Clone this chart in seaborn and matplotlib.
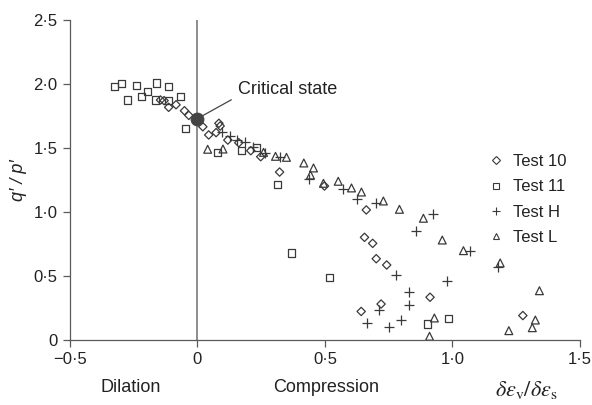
import numpy as np
import pandas as pd
import matplotlib
matplotlib.use("Agg")
import matplotlib.pyplot as plt
import seaborn as sns
from matplotlib.lines import Line2D

# Stress ratio q'/p' against dilatancy for four tests
test10_x = [-0.145, -0.131, -0.113, -0.084, -0.051, -0.034, 0.021, 0.044, 0.073, 0.084, 0.089,
            0.119, 0.162, 0.209, 0.248, 0.322, 0.498, 0.662, 0.655, 0.687, 0.701, 0.742,
            0.912, 0.720, 0.642, 1.276]
test10_y = [1.875, 1.870, 1.818, 1.838, 1.791, 1.755, 1.666, 1.602, 1.620, 1.693, 1.672,
            1.562, 1.541, 1.479, 1.432, 1.312, 1.203, 1.016, 0.802, 0.755, 0.635, 0.586,
            0.334, 0.281, 0.223, 0.191]

test11_x = [-0.325, -0.297, -0.239, -0.160, -0.114, -0.276, -0.218, -0.197, -0.165, -0.115,
            -0.068, -0.048, 0.077, 0.171, 0.230, 0.313, 0.370, 0.519, 0.901, 0.984]
test11_y = [1.977, 2.005, 1.990, 2.008, 1.984, 1.875, 1.900, 1.940, 1.875, 1.870,
            1.900, 1.654, 1.465, 1.479, 1.505, 1.216, 0.680, 0.490, 0.125, 0.170]

testH_x = [0.097, 0.129, 0.155, 0.186, 0.218, 0.265, 0.325, 0.439, 0.570, 0.625, 0.699,
           0.923, 0.858, 1.069, 1.179, 0.779, 0.978, 0.831, 0.829, 0.712, 0.663, 0.753, 0.799]
testH_y = [1.622, 1.596, 1.562, 1.547, 1.505, 1.459, 1.430, 1.255, 1.180, 1.099, 1.073,
           0.987, 0.850, 0.698, 0.568, 0.505, 0.461, 0.373, 0.276, 0.232, 0.133, 0.099, 0.156]

testL_x = [0.040, 0.100, 0.259, 0.306, 0.349, 0.417, 0.455, 0.443, 0.494, 0.552, 0.604,
           0.643, 0.729, 0.792, 0.886, 0.960, 1.043, 1.187, 1.341, 1.325, 1.313, 1.221,
           0.929, 0.910]
testL_y = [1.490, 1.492, 1.466, 1.435, 1.427, 1.383, 1.344, 1.289, 1.224, 1.240, 1.188,
           1.156, 1.086, 1.021, 0.951, 0.781, 0.698, 0.602, 0.385, 0.156, 0.096, 0.073,
           0.172, 0.029]

critical_x = [0.0]
critical_y = [1.73]

x_ticks = [-0.5, 0.0, 0.5, 1.0, 1.5]
x_ticklabels = ["\u22120\u00b75", "0", "0\u00b75", "1\u00b70", "1\u00b75"]
y_ticks = [0.0, 0.5, 1.0, 1.5, 2.0, 2.5]
y_ticklabels = ["0", "0\u00b75", "1\u00b70", "1\u00b75", "2\u00b70", "2\u00b75"]

series_names = ["Test 10", "Test 11", "Test H", "Test L"]

sns.set_style("ticks")
plt.rcParams["font.family"] = ["Liberation Sans", "DejaVu Sans"]

ink = "#3a3a3a"
axis_col = "#5a5a5a"
text_col = "#222222"

fig = plt.figure(figsize=(5.92, 4.05), dpi=100)
ax = fig.add_axes([0.1182, 0.1605, 0.8615, 0.7901])

frames = {
    "Test 10": pd.DataFrame({"x": test10_x, "y": test10_y}),
    "Test 11": pd.DataFrame({"x": test11_x, "y": test11_y}),
    "Test H": pd.DataFrame({"x": testH_x, "y": testH_y}),
    "Test L": pd.DataFrame({"x": testL_x, "y": testL_y}),
}
markers = {"Test 10": "D", "Test 11": "s", "Test H": "+", "Test L": "^"}
sizes = {"Test 10": 18, "Test 11": 26, "Test H": 45, "Test L": 32}

# zero-dilatancy divider
ax.axvline(0, color="#7a7a7a", lw=1.2, zorder=1)

for name in series_names:
    df = frames[name]
    m = markers[name]
    if m == "+":
        sns.scatterplot(data=df, x="x", y="y", marker=m, s=sizes[name], color=ink,
                        linewidth=0.9, ax=ax, zorder=3, legend=False)
    else:
        sns.scatterplot(data=df, x="x", y="y", marker=m, s=sizes[name], facecolors="none",
                        edgecolor=ink, linewidth=0.9, ax=ax, zorder=3, legend=False)

sns.scatterplot(x=critical_x, y=critical_y, s=85, color="#444444", edgecolor="#444444",
                ax=ax, zorder=4, legend=False)
ax.annotate("Critical state", xy=(critical_x[0], critical_y[0]), xytext=(0.16, 1.96),
            fontsize=13, color=text_col, va="center", ha="left",
            arrowprops=dict(arrowstyle="-", color="#444444", lw=0.9, shrinkA=3, shrinkB=0,
                            relpos=(0, 0.1)))

ax.set_xlim(-0.5, 1.5)
ax.set_ylim(0, 2.5)
ax.set_xticks(x_ticks)
ax.set_xticklabels(x_ticklabels)
ax.set_yticks(y_ticks)
ax.set_yticklabels(y_ticklabels)
ax.tick_params(axis="both", direction="out", length=5, width=0.9, color=axis_col,
               labelsize=12, labelcolor=text_col, pad=4)
for side in ["top", "right"]:
    ax.spines[side].set_visible(False)
for side in ["left", "bottom"]:
    ax.spines[side].set_color(axis_col)
    ax.spines[side].set_linewidth(0.9)
ax.set_xlabel("")
ax.set_ylabel("q\u2032 / p\u2032", fontsize=13, style="italic", color=text_col)
ax.yaxis.set_label_coords(-0.085, 0.5)

handles = []
for name in series_names:
    m = markers[name]
    if m == "+":
        h = Line2D([], [], marker=m, ls="none", color=ink, markersize=6, markeredgewidth=0.8)
    else:
        h = Line2D([], [], marker=m, ls="none", markerfacecolor="none", markeredgecolor=ink,
                   markersize=4.5, markeredgewidth=0.8)
    handles.append(h)
ax.legend(handles, series_names, loc="upper left", bbox_to_anchor=(0.79, 0.628),
          frameon=False, fontsize=12, handlelength=1.0, handletextpad=0.5,
          labelspacing=0.62, labelcolor=text_col)

fig.text(131 / 592, 1 - 388 / 405, "Dilation", ha="center", va="center", fontsize=13,
         color=text_col)
fig.text(326 / 592, 1 - 388 / 405, "Compression", ha="center", va="center", fontsize=13,
         color=text_col)
fig.text(526 / 592, 1 - 390 / 405,
         r"$\delta\varepsilon_{\mathrm{v}}/\delta\varepsilon_{\mathrm{s}}$",
         ha="center", va="center", fontsize=16, color=text_col, math_fontfamily="stix")

fig.savefig("out.png", dpi=100)
